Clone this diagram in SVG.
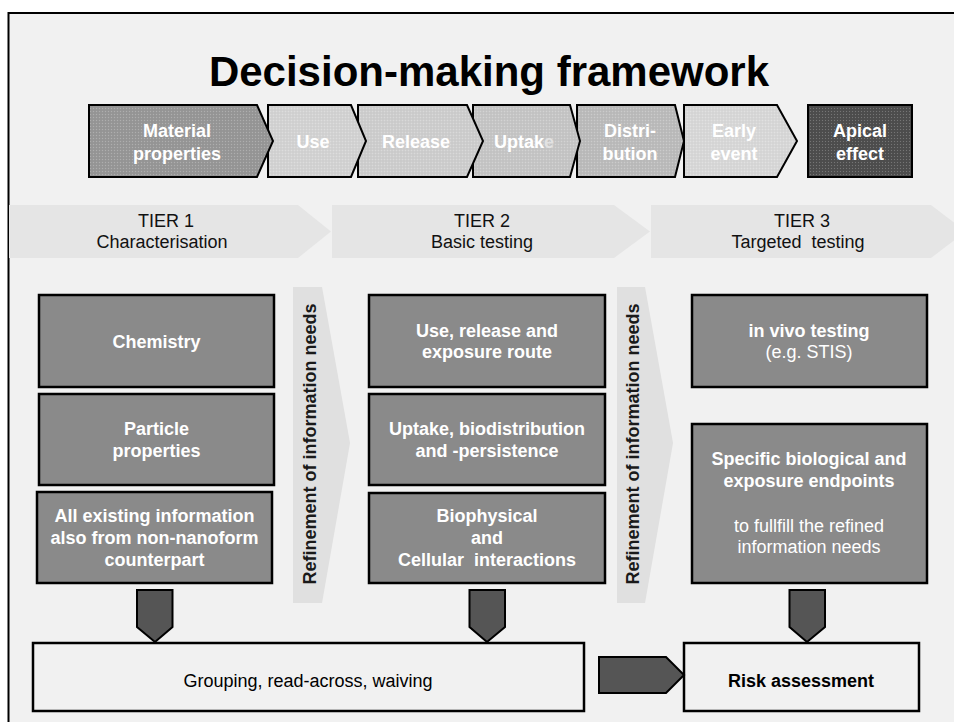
<svg xmlns="http://www.w3.org/2000/svg" xmlns:xlink="http://www.w3.org/1999/xlink" width="954" height="722" viewBox="0 0 954 722">
  <style>
    text { font-family: "Liberation Sans", Arial, Helvetica, sans-serif; }
    .title { font-size: 42px; font-weight: bold; fill: #000; text-anchor: middle; }
    .step { font-size: 18px; font-weight: bold; fill: #fff; text-anchor: middle; }
    .tier { font-size: 18px; fill: #111; text-anchor: middle; }
    .box { fill: #8a8a8a; stroke: #000; stroke-width: 2.5; }
    .boxtxt { font-size: 18px; font-weight: bold; fill: #fff; text-anchor: middle; }
    .boxreg { font-size: 18px; fill: #fff; text-anchor: middle; }
    .band { fill: #e5e5e5; }
    .refine { fill: #e0e0e0; }
    .reftxt { font-size: 18px; font-weight: bold; fill: #1a1a1a; text-anchor: middle; }
    .outline { fill: url(#grain); stroke: #000; stroke-width: 2; stroke-linejoin: miter; }
    .flow { fill: #555; stroke: #000; stroke-width: 2; }
    .result { fill: #f1f1f1; stroke: #000; stroke-width: 2.5; }
    .restxt { font-size: 18px; fill: #000; text-anchor: middle; }
  </style>
  <defs>
    <!-- fine dotted screen used on the step chevrons -->
    <pattern id="grain" width="3" height="3" patternUnits="userSpaceOnUse">
      <rect x="0" y="0" width="1" height="1" fill="#fff" fill-opacity="0.22"/>
      <rect x="1.5" y="1.5" width="1" height="1" fill="#000" fill-opacity="0.08"/>
    </pattern>
  </defs>

  <!-- page -->
  <rect x="0" y="0" width="954" height="722" fill="#fff"/>
  <rect x="8" y="13" width="946" height="709" fill="#f1f1f1"/>
  <path d="M8.5 722 V13 H954" fill="none" stroke="#000" stroke-width="2"/>

  <text class="title" x="489" y="86">Decision-making framework</text>

  <!-- process steps, drawn right to left so each point overlaps the next step -->
  <g id="step-apical">
    <rect x="808" y="105" width="104" height="72" fill="#4e4e4e"/>
    <rect class="outline" x="808" y="105" width="104" height="72"/>
    <text class="step" x="860" y="137">Apical</text>
    <text class="step" x="860" y="160">effect</text>
  </g>
  <g id="step-early">
    <polygon points="684,105 777,105 797,141 777,177 684,177" fill="#d8d8d8"/>
    <polygon class="outline" points="684,105 777,105 797,141 777,177 684,177"/>
    <text class="step" x="734" y="137">Early</text>
    <text class="step" x="734" y="160">event</text>
  </g>
  <g id="step-distribution">
    <polygon points="577,105 675,105 684,141 675,177 577,177" fill="#bcbcbc"/>
    <polygon class="outline" points="577,105 675,105 684,141 675,177 577,177"/>
    <text class="step" x="630" y="137">Distri-</text>
    <text class="step" x="630" y="160">bution</text>
  </g>
  <g id="step-uptake">
    <polygon points="473,105 570,105 580,141 570,177 473,177" fill="#c6c6c6"/>
    <polygon class="outline" points="473,105 570,105 580,141 570,177 473,177"/>
    <text class="step" x="524" y="148">Uptak<tspan fill="#e2e2e2">e</tspan></text>
  </g>
  <g id="step-release">
    <polygon points="358,105 467,105 483,141 467,177 358,177" fill="#cecece"/>
    <polygon class="outline" points="358,105 467,105 483,141 467,177 358,177"/>
    <text class="step" x="416" y="148">Release</text>
  </g>
  <g id="step-use">
    <polygon points="268,105 351,105 366,141 351,177 268,177" fill="#d3d3d3"/>
    <polygon class="outline" points="268,105 351,105 366,141 351,177 268,177"/>
    <text class="step" x="313" y="148">Use</text>
  </g>
  <g id="step-material">
    <polygon points="89,105 257,105 273,141 257,177 89,177" fill="#979797"/>
    <polygon class="outline" points="89,105 257,105 273,141 257,177 89,177"/>
    <text class="step" x="177" y="137">Material</text>
    <text class="step" x="177" y="160">properties</text>
  </g>

  <!-- tier band -->
  <g id="tier1">
    <polygon class="band" points="9,205 298,205 331,231.5 298,258 9,258"/>
    <text class="tier" x="166" y="227">TIER 1</text>
    <text class="tier" x="162" y="248">Characterisation</text>
  </g>
  <g id="tier2">
    <polygon class="band" points="332,205 614,205 650,231.5 614,258 332,258"/>
    <text class="tier" x="482" y="227">TIER 2</text>
    <text class="tier" x="482" y="248">Basic testing</text>
  </g>
  <g id="tier3">
    <polygon class="band" points="651,205 931,205 966,231.5 931,258 651,258"/>
    <text class="tier" x="802" y="227">TIER 3</text>
    <text class="tier" x="798" y="248" xml:space="preserve">Targeted  testing</text>
  </g>

  <!-- tier 1 column -->
  <g id="chemistry">
    <rect class="box" x="39" y="295" width="235" height="92"/>
    <text class="boxtxt" x="156.5" y="348">Chemistry</text>
  </g>
  <g id="particle-properties">
    <rect class="box" x="39" y="394" width="235" height="91"/>
    <text class="boxtxt" x="156.5" y="435">Particle</text>
    <text class="boxtxt" x="156.5" y="457">properties</text>
  </g>
  <g id="existing-information">
    <rect class="box" x="37" y="492" width="235" height="91"/>
    <text class="boxtxt" x="154.5" y="522">All existing information</text>
    <text class="boxtxt" x="154.5" y="544">also from non-nanoform</text>
    <text class="boxtxt" x="154.5" y="566">counterpart</text>
  </g>

  <g id="refinement-1">
    <polygon class="refine" points="293,287 322,287 350,443 322,603 293,603"/>
    <text class="reftxt" transform="translate(315.5,444) rotate(-90)">Refinement of information needs</text>
  </g>

  <!-- tier 2 column -->
  <g id="exposure-route">
    <rect class="box" x="369" y="295" width="236" height="92"/>
    <text class="boxtxt" x="487" y="337">Use, release and</text>
    <text class="boxtxt" x="487" y="358">exposure route</text>
  </g>
  <g id="biodistribution">
    <rect class="box" x="369" y="394" width="236" height="91"/>
    <text class="boxtxt" x="487" y="435">Uptake, biodistribution</text>
    <text class="boxtxt" x="487" y="457">and -persistence</text>
  </g>
  <g id="interactions">
    <rect class="box" x="369" y="493" width="236" height="90"/>
    <text class="boxtxt" x="487" y="522">Biophysical</text>
    <text class="boxtxt" x="487" y="544">and</text>
    <text class="boxtxt" x="487" y="566" xml:space="preserve">Cellular  interactions</text>
  </g>

  <g id="refinement-2">
    <polygon class="refine" points="617,287 645,287 673,443 645,603 617,603"/>
    <text class="reftxt" transform="translate(638.5,444) rotate(-90)">Refinement of information needs</text>
  </g>

  <!-- tier 3 column -->
  <g id="in-vivo">
    <rect class="box" x="692" y="295" width="235" height="92"/>
    <text class="boxtxt" x="809" y="337">in vivo testing</text>
    <text class="boxreg" x="809" y="358">(e.g. STIS)</text>
  </g>
  <g id="specific-endpoints">
    <rect class="box" x="692" y="424" width="235" height="159"/>
    <text class="boxtxt" x="809" y="465">Specific biological and</text>
    <text class="boxtxt" x="809" y="487">exposure endpoints</text>
    <text class="boxreg" x="809" y="532">to fullfill the refined</text>
    <text class="boxreg" x="809" y="553">information needs</text>
  </g>

  <!-- outcomes -->
  <g id="grouping">
    <rect class="result" x="33" y="643" width="551" height="68"/>
    <text class="restxt" x="308" y="687">Grouping, read-across, waiving</text>
  </g>
  <g id="risk-assessment">
    <rect class="result" x="684" y="643" width="235" height="68"/>
    <text class="restxt" x="801" y="687" font-weight="bold">Risk assessment</text>
  </g>

  <!-- block arrows -->
  <g id="connectors">
    <polygon class="flow" points="137,590 172.5,590 172.5,627 155,642 137,627"/>
    <polygon class="flow" points="469.5,590 505,590 505,627 487,642 469.5,627"/>
    <polygon class="flow" points="789.5,590 825,590 825,627 807,642 789.5,627"/>
    <polygon class="flow" points="599,657 666,657 684,675 666,693 599,693"/>
  </g>
</svg>
